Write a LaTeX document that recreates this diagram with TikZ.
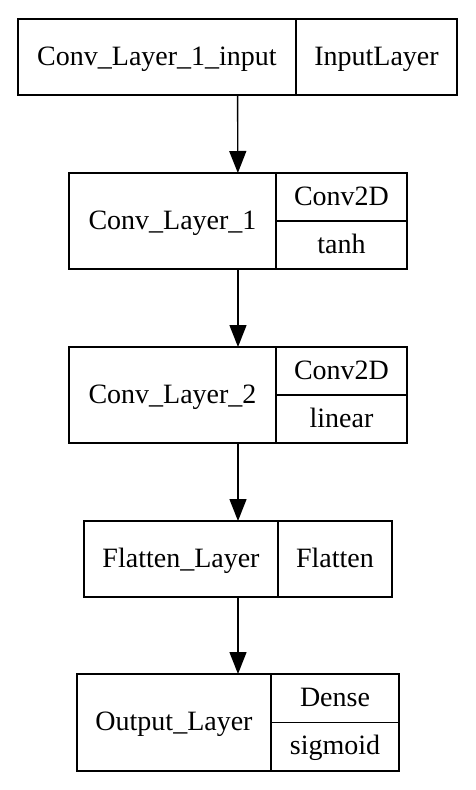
\documentclass[tikz,border=0pt]{standalone}
\usepackage{fontspec}
\setmainfont{Liberation Serif}
\usetikzlibrary{arrows.meta,positioning,fit}

\tikzset{
	cell/.style={draw, line width=1.4pt, inner sep=0pt, outer sep=0pt, align=center,
		text height=20pt, text depth=4pt,
		font=\fontsize{28}{32}\selectfont},
	whole/.style={inner sep=0pt, outer sep=0pt},
	flow/.style={line width=1.4pt, -{Triangle[length=22pt,width=17pt]}}
}

\begin{document}
\begin{tikzpicture}[x=1pt,y=-1pt]
	\useasboundingbox (0,0) rectangle (475,790);
	
	% input layer
	\node[cell, minimum width=278, minimum height=76] (inname) at (157,57) {Conv\_Layer\_1\_input};
	\node[cell, minimum width=161, minimum height=76, anchor=west] (intype) at (inname.east) {InputLayer};
	\node[whole, fit=(inname)(intype)] (input) {};
	
	% first conv layer
	\node[cell, minimum width=207, minimum height=96] (convaname) at (172.5,221) {Conv\_Layer\_1};
	\node[cell, minimum width=131, minimum height=48, anchor=north west] (convatype) at (convaname.north east) {Conv2D};
	\node[cell, minimum width=131, minimum height=48, anchor=north] (convaact) at (convatype.south) {tanh};
	\node[whole, fit=(convaname)(convatype)(convaact)] (conva) {};
	
	% second conv layer
	\node[cell, minimum width=207, minimum height=96] (convbname) at (172.5,395) {Conv\_Layer\_2};
	\node[cell, minimum width=131, minimum height=48, anchor=north west] (convbtype) at (convbname.north east) {Conv2D};
	\node[cell, minimum width=131, minimum height=48, anchor=north] (convbact) at (convbtype.south) {linear};
	\node[whole, fit=(convbname)(convbtype)(convbact)] (convb) {};
	
	% flatten
	\node[cell, minimum width=194, minimum height=76] (flatname) at (181,559) {Flatten\_Layer};
	\node[cell, minimum width=114, minimum height=76, anchor=west] (flattype) at (flatname.east) {Flatten};
	\node[whole, fit=(flatname)(flattype)] (flat) {};
	
	% output
	\node[cell, minimum width=194, minimum height=97] (outname) at (174,722.5) {Output\_Layer};
	\node[cell, minimum width=128, minimum height=48.5, anchor=north west] (outtype) at (outname.north east) {Dense};
	\node[cell, minimum width=128, minimum height=48.5, anchor=north] (outact) at (outtype.south) {sigmoid};
	\node[whole, fit=(outname)(outtype)(outact)] (output) {};
	
	\draw[flow] (input) -- (conva);
	\draw[flow] (conva) -- (convb);
	\draw[flow] (convb) -- (flat);
	\draw[flow] (flat) -- (output);
\end{tikzpicture}
\end{document}
